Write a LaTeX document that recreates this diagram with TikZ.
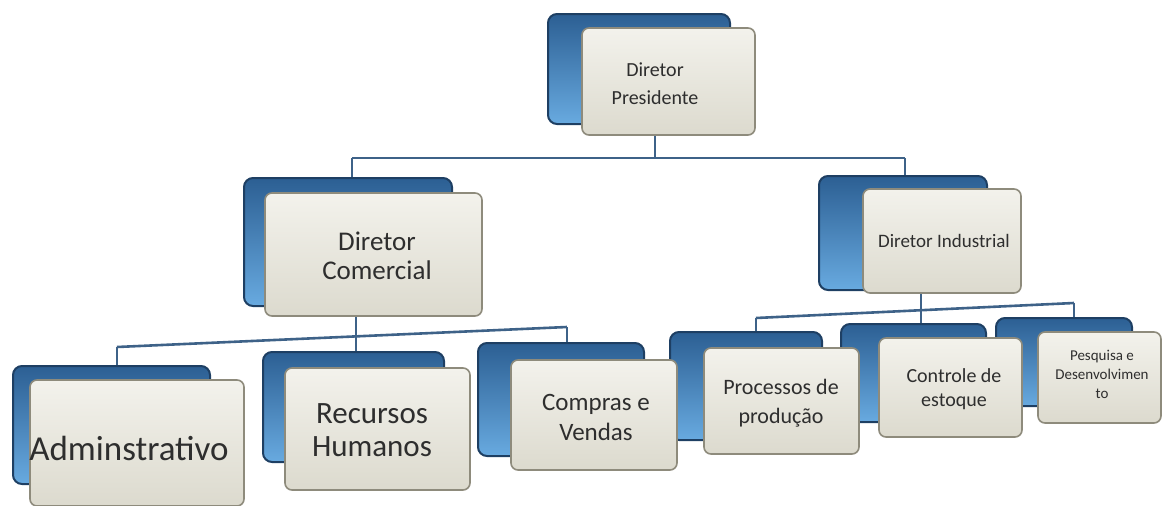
\documentclass[tikz,border=0pt]{standalone}
\usepackage{fontspec}
\setmainfont{Carlito}
\usetikzlibrary{fit}
\definecolor{linec}{HTML}{3E6288}
\definecolor{bluedark}{HTML}{1E3F63}
\definecolor{bluetop}{HTML}{2C5F93}
\definecolor{bluebot}{HTML}{68AAE0}
\definecolor{frontdraw}{HTML}{8E8B7C}
\definecolor{fronttop}{HTML}{F3F2EC}
\definecolor{frontbot}{HTML}{DCDACE}
\definecolor{txt}{HTML}{2E2E2E}
\pgfdeclarelayer{bg}
\pgfsetlayers{bg,main}
\tikzset{
  backbox/.style={draw=bluedark, line width=2pt, rounded corners=9pt,
    top color=bluetop, bottom color=bluebot, inner sep=0pt},
  frontbox/.style={draw=frontdraw, line width=1.6pt, rounded corners=7pt,
    top color=fronttop, bottom color=frontbot, inner sep=0pt},
  lbl/.style={align=center, text=txt, inner sep=0pt},
  conn/.style={draw=linec, line width=2.6pt}
}
\begin{document}
\begin{tikzpicture}[x=1pt,y=-1pt]
\useasboundingbox (0,0) rectangle (1162,506);
% back panels
\node[backbox, fit={(548,14)(730,124)}] (presB) {};
\node[backbox, fit={(244,178)(452,306)}] (comB) {};
\node[backbox, fit={(819,176)(987,290)}] (indB) {};
\node[backbox, fit={(13,366)(210,484)}] (admB) {};
\node[backbox, fit={(263,352)(444,462)}] (rhB) {};
\node[backbox, fit={(478,343)(644,456)}] (cvB) {};
\node[backbox, fit={(670,332)(822,440)}] (ppB) {};
\node[backbox, fit={(841,324)(986,422)}] (ceB) {};
\node[backbox, fit={(996,318)(1132,406)}] (pdB) {};
% front panels
\node[frontbox, fit={(582,28)(755,135)}] (pres) {};
\node[frontbox, fit={(265,193)(482,316)}] (com) {};
\node[frontbox, fit={(863,189)(1021,293)}] (ind) {};
\node[frontbox, fit={(30,380)(244,506)}] (adm) {};
\node[frontbox, fit={(285,368)(470,490)}] (rh) {};
\node[frontbox, fit={(511,360)(677,470)}] (cv) {};
\node[frontbox, fit={(704,348)(859,454)}] (pp) {};
\node[frontbox, fit={(879,338)(1022,437)}] (ce) {};
\node[frontbox, fit={(1038,332)(1161,423)}] (pd) {};
% texts
\node[lbl, font=\fontsize{20}{28}\selectfont] (presT) at (655,84) {Diretor\\Presidente};
\node[lbl, font=\fontsize{27}{29}\selectfont] (comT) at (377,256) {Diretor\\Comercial};
\node[lbl, font=\fontsize{19}{23}\selectfont] (indT) at (944,241) {Diretor Industrial};
\node[lbl, font=\fontsize{35}{40}\selectfont] (admT) at (129,448) {Adminstrativo};
\node[lbl, font=\fontsize{31}{33}\selectfont] (rhT) at (372,430) {Recursos\\Humanos};
\node[lbl, font=\fontsize{25}{30}\selectfont] (cvT) at (596,417) {Compras e\\Vendas};
\node[lbl, font=\fontsize{22}{29}\selectfont] (ppT) at (781,403) {Processos de\\produção};
\node[lbl, font=\fontsize{20}{24}\selectfont] (ceT) at (954,389) {Controle de\\estoque};
\node[lbl, font=\fontsize{15}{19}\selectfont] (pdT) at (1102,374) {Pesquisa e\\Desenvolvimen\\to};
% connectors
\coordinate (j1) at (655,158);
\coordinate (j1l) at (352,158);
\coordinate (j1r) at (905,158);
\coordinate (j2l) at (117,347);
\coordinate (j2r) at (567,327);
\coordinate (j2m) at (356,337);
\coordinate (j3l) at (756,318);
\coordinate (j3r) at (1074,303);
\coordinate (j3m) at (921,311);
\begin{pgfonlayer}{bg}
\draw[conn] (pres.south -| j1) -- (j1);
\draw[conn] (j1l) -- (j1r);
\draw[conn] (j1l) -- (j1l |- comB.north);
\draw[conn] (j1r) -- (j1r |- indB.north);
\draw[conn] (j2l) -- (j2r);
\draw[conn] (com.south -| j2m) -- (j2m |- rhB.north);
\draw[conn] (j2l) -- (j2l |- admB.north);
\draw[conn] (j2r) -- (j2r |- cvB.north);
\draw[conn] (j3l) -- (j3r);
\draw[conn] (ind.south -| j3m) -- (j3m |- ceB.north);
\draw[conn] (j3l) -- (j3l |- ppB.north);
\draw[conn] (j3r) -- (j3r |- pdB.north);
\end{pgfonlayer}
\end{tikzpicture}
\end{document}
